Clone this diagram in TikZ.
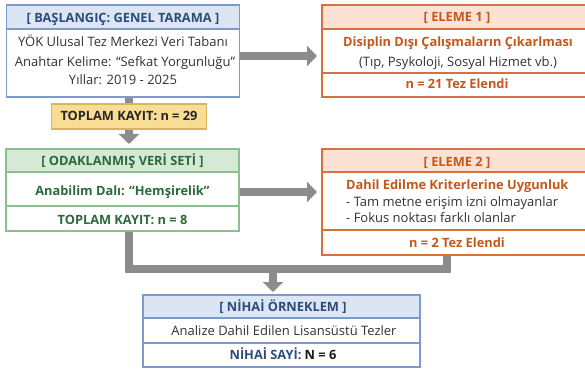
\documentclass[tikz,border=0pt]{standalone}
\usepackage{fontspec}
\setmainfont{Open Sans}
\usetikzlibrary{arrows.meta}
\definecolor{blueB}{HTML}{7B9BCB}
\definecolor{blueH}{HTML}{DCE5F2}
\definecolor{blueT}{HTML}{2C4C7C}
\definecolor{greenB}{HTML}{8CBF8E}
\definecolor{greenH}{HTML}{D5E9D6}
\definecolor{greenT}{HTML}{2A6A3C}
\definecolor{orB}{HTML}{D8703E}
\definecolor{orH}{HTML}{FBE2D4}
\definecolor{orT}{HTML}{C4581B}
\definecolor{yelF}{HTML}{FADD94}
\definecolor{yelB}{HTML}{D9B45A}
\definecolor{arrG}{HTML}{8C8C8C}
\definecolor{txt}{HTML}{333333}
\tikzset{
  frame/.style={inner sep=0pt, outer sep=0pt},
  body/.style={font=\fontsize{13}{15}\selectfont, text=txt, inner sep=0pt, anchor=base},
  ttl/.style={font=\fontsize{12.8}{15}\selectfont\bfseries, inner sep=0pt, anchor=base},
  gline/.style={draw=arrG, line width=8pt},
  garrow/.style={draw=arrG, line width=8pt, -{Triangle[length=10pt,width=20pt]}},
}
\begin{document}
\begin{tikzpicture}[x=1pt,y=-1pt]
\useasboundingbox[fill=white] (0,0) rectangle (585,371);
% ---- boxes (frames)
\path node[frame, minimum width=233pt, minimum height=92pt] (b1) at (123,51) {};
\path node[frame, minimum width=155pt, minimum height=25pt] (yl) at (129,116.5) {};
\path node[frame, minimum width=233pt, minimum height=82pt] (gr) at (122.5,190) {};
\path node[frame, minimum width=270pt, minimum height=92pt] (e1) at (457,51) {};
\path node[frame, minimum width=270pt, minimum height=106pt] (e2) at (457,202) {};
\path node[frame, minimum width=277pt, minimum height=72pt] (fn) at (281.5,331) {};
% ---- connectors
\coordinate (m1) at (129,269);
\coordinate (m2) at (447,269);
\coordinate (m3) at (273,269);
\draw[gline] (b1.south -| yl.north) -- (yl.north);
\draw[garrow, shorten >=5pt] (yl.south) -- (yl.south |- gr.north);
\draw[garrow, shorten >=5pt] ([yshift=-5pt]b1.east) -- ([yshift=-5pt]b1.east -| e1.west);
\draw[garrow, shorten >=5pt] ([yshift=-2pt]gr.east) -- ([yshift=-2pt]gr.east -| e2.west);
\draw[gline, line join=miter] (gr.south -| m1) -- (m1) -- (m2) -- (m2 |- e2.south);
\draw[garrow, shorten >=3pt] ([yshift=-4pt]m3) -- (m3 |- fn.north);
% ---- box 1
\fill[white] (b1.north west) rectangle (b1.south east);
\fill[blueH] (b1.north west) rectangle ([yshift=-24pt]b1.north east);
\draw[blueB, line width=1.2pt] ([yshift=-24pt]b1.north west) -- ([yshift=-24pt]b1.north east);
\draw[blueB, line width=1.4pt] (b1.north west) rectangle (b1.south east);
\node[ttl, text=blueT] (b1t) at (123,22.5) {[ BAŞLANGIÇ: GENEL TARAMA ]};
\node[body] (b1a) at (123,47) {YÖK Ulusal Tez Merkezi Veri Tabanı};
\node[body] (b1b) at (125,67) {Anahtar Kelime: “Sefkat Yorgunluğu”};
\node[body] (b1c) at (123,84.5) {Yıllar: 2019 - 2025};
% ---- yellow
\draw[yelB, fill=yelF, line width=1.2pt] (yl.north west) rectangle (yl.south east);
\node[ttl, text=black!85] (ylt) at (129,121) {TOPLAM KAYIT: n = 29};
% ---- green
\fill[white] (gr.north west) rectangle (gr.south east);
\fill[greenH] (gr.north west) rectangle ([yshift=-23pt]gr.north east);
\draw[greenB, line width=1.2pt] ([yshift=-23pt]gr.north west) -- ([yshift=-23pt]gr.north east);
\draw[greenB, line width=1.2pt] ([yshift=-57pt]gr.north west) -- ([yshift=-57pt]gr.north east);
\draw[greenB, line width=1.4pt] (gr.north west) rectangle (gr.south east);
\node[ttl, text=greenT] (grt) at (122.5,165.5) {[ ODAKLANMIŞ VERİ SETİ ]};
\node[ttl, text=greenT] (gra) at (122.5,195.5) {Anabilim Dalı: “Hemşirelik”};
\node[ttl, text=greenT] (grb) at (122.5,224) {TOPLAM KAYIT: n = 8};
% ---- eleme 1
\fill[white] (e1.north west) rectangle (e1.south east);
\fill[orH] (e1.north west) rectangle ([yshift=-24pt]e1.north east);
\draw[orB, line width=1.2pt] ([yshift=-24pt]e1.north west) -- ([yshift=-24pt]e1.north east);
\draw[orB, line width=1.2pt] ([yshift=-68pt]e1.north west) -- ([yshift=-68pt]e1.north east);
\draw[orB, line width=1.4pt] (e1.north west) rectangle (e1.south east);
\node[ttl, text=orT] (e1t) at (457,21.5) {[ ELEME 1 ]};
\node[ttl, text=orT] (e1a) at (458,46.5) {Disiplin Dışı Çalışmaların Çıkarlması};
\node[body] (e1b) at (458,66.5) {(Tıp, Psykoloji, Sosyal Hizmet vb.)};
\node[ttl, text=orT] (e1c) at (457,89) {n = 21 Tez Elendi};
% ---- eleme 2
\fill[white] (e2.north west) rectangle (e2.south east);
\fill[orH] (e2.north west) rectangle ([yshift=-23pt]e2.north east);
\draw[orB, line width=1.2pt] ([yshift=-23pt]e2.north west) -- ([yshift=-23pt]e2.north east);
\draw[orB, line width=1.2pt] ([yshift=-81pt]e2.north west) -- ([yshift=-81pt]e2.north east);
\draw[orB, line width=1.4pt] (e2.north west) rectangle (e2.south east);
\node[ttl, text=orT] (e2t) at (457,166.5) {[ ELEME 2 ]};
\node[ttl, text=orT, anchor=base west] (e2a) at (346,189.5) {Dahil Edilme Kriterlerine Uygunluk};
\node[body, anchor=base west] (e2b) at (346,206.5) {- Tam metne erişim izni olmayanlar};
\node[body, anchor=base west] (e2c) at (346,222.5) {- Fokus noktası farklı olanlar};
\node[ttl, text=orT] (e2d) at (457,247.5) {n = 2 Tez Elendi};
% ---- final
\fill[white] (fn.north west) rectangle (fn.south east);
\fill[blueH] (fn.north west) rectangle ([yshift=-23pt]fn.north east);
\draw[blueB, line width=1.2pt] ([yshift=-23pt]fn.north west) -- ([yshift=-23pt]fn.north east);
\draw[blueB, line width=1.2pt] ([yshift=-48pt]fn.north west) -- ([yshift=-48pt]fn.north east);
\draw[blueB, line width=1.4pt] (fn.north west) rectangle (fn.south east);
\node[ttl, text=blueT] (fnt) at (283,311.5) {[ NİHAİ ÖRNEKLEM ]};
\node[body] (fna) at (284,335.5) {Analize Dahil Edilen Lisansüstü Tezler};
\node[ttl, text=blueT] (fnb) at (283,359.5) {NİHAİ SAYİ: \textcolor{black!90}{N = 6}};
\end{tikzpicture}
\end{document}
